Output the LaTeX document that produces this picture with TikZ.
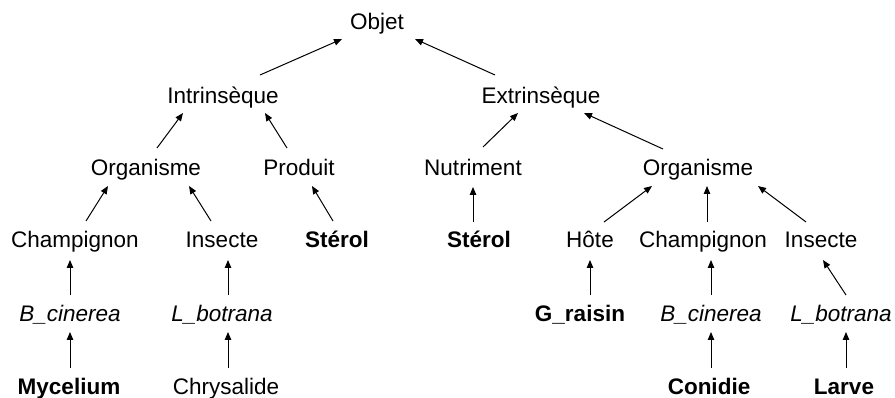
\documentclass[tikz,border=0pt]{standalone}
\usepackage{fontspec}
\setmainfont{Liberation Sans}
\usetikzlibrary{arrows.meta}
\begin{document}
\begin{tikzpicture}[x=1pt,y=-1pt,
  lbl/.style={anchor=base,inner sep=0pt,font=\fontsize{22.5}{27}\selectfont},
  bld/.style={lbl,font=\fontsize{22.5}{27}\selectfont\bfseries},
  itl/.style={lbl,font=\fontsize{22.5}{27}\selectfont\itshape},
  arr/.style={line width=1pt,-{Triangle[length=8pt,width=6.5pt]}}]
\useasboundingbox (0,0) rectangle (895,398);
% row 1
\node[lbl] (objet) at (377,30) {Objet};
% row 2
\node[lbl] (intr) at (223,104) {Intrinsèque};
\node[lbl] (extr) at (541,104) {Extrinsèque};
% row 3
\node[lbl] (orgL) at (146,176) {Organisme};
\node[lbl] (prod) at (299,176) {Produit};
\node[lbl] (nutr) at (473,176) {Nutriment};
\node[lbl] (orgR) at (698,176) {Organisme};
% row 4
\node[lbl] (champL) at (75,248) {Champignon};
\node[lbl] (insL) at (222,248) {Insecte};
\node[bld] (stL) at (337,248) {Stérol};
\node[bld] (stR) at (479,248) {Stérol};
\node[lbl] (hote) at (590,248) {Hôte};
\node[lbl] (champR) at (703,248) {Champignon};
\node[lbl] (insR) at (821,248) {Insecte};
% row 5
\node[itl] (bcL) at (70,322) {B\_cinerea};
\node[itl] (lbL) at (222,322) {L\_botrana};
\node[bld] (gr) at (580,322) {G\_raisin};
\node[itl] (bcR) at (711,322) {B\_cinerea};
\node[itl] (lbR) at (841,322) {L\_botrana};
% row 6
\node[bld] (myc) at (69,394) {Mycelium};
\node[lbl] (chry) at (226,394) {Chrysalide};
\node[bld] (con) at (709,394) {Conidie};
\node[bld] (larve) at (844,394) {Larve};
% arrows
\draw[arr] ([shift={(37,-29)}]intr.base) -- ([shift={(-35,9)}]objet.base);
\draw[arr] ([shift={(-46,-29)}]extr.base) -- ([shift={(38,9)}]objet.base);
\draw[arr] ([shift={(11,-28)}]orgL.base) -- ([shift={(-40,9)}]intr.base);
\draw[arr] ([shift={(-12,-28)}]prod.base) -- ([shift={(42,9)}]intr.base);
\draw[arr] ([shift={(10,-29)}]nutr.base) -- ([shift={(-23,9)}]extr.base);
\draw[arr] ([shift={(-35,-27)}]orgR.base) -- ([shift={(43,9)}]extr.base);
\draw[arr] ([shift={(11,-27)}]champL.base) -- ([shift={(-38,10)}]orgL.base);
\draw[arr] ([shift={(-11,-27)}]insL.base) -- ([shift={(43,10)}]orgL.base);
\draw[arr] ([shift={(-4,-27)}]stL.base) -- ([shift={(13,10)}]prod.base);
\draw[arr] ([shift={(-6,-26)}]stR.base) -- ([shift={(0,11)}]nutr.base);
\draw[arr] ([shift={(14,-26)}]hote.base) -- ([shift={(-46,10)}]orgR.base);
\draw[arr] ([shift={(4,-26)}]champR.base) -- ([shift={(9,10)}]orgR.base);
\draw[arr] ([shift={(-15,-26)}]insR.base) -- ([shift={(60,10)}]orgR.base);
\draw[arr] ([shift={(0,-27)}]bcL.base) -- ([shift={(-5,12)}]champL.base);
\draw[arr] ([shift={(6,-27)}]lbL.base) -- ([shift={(6,12)}]insL.base);
\draw[arr] ([shift={(10,-27)}]gr.base) -- ([shift={(0,12)}]hote.base);
\draw[arr] ([shift={(0,-27)}]bcR.base) -- ([shift={(8,12)}]champR.base);
\draw[arr] ([shift={(5,-27)}]lbR.base) -- ([shift={(2,12)}]insR.base);
\draw[arr] ([shift={(1,-26)}]myc.base) -- ([shift={(0,10)}]bcL.base);
\draw[arr] ([shift={(2,-26)}]chry.base) -- ([shift={(6,10)}]lbL.base);
\draw[arr] ([shift={(2,-26)}]con.base) -- ([shift={(0,10)}]bcR.base);
\draw[arr] ([shift={(2,-26)}]larve.base) -- ([shift={(5,10)}]lbR.base);
\end{tikzpicture}
\end{document}
